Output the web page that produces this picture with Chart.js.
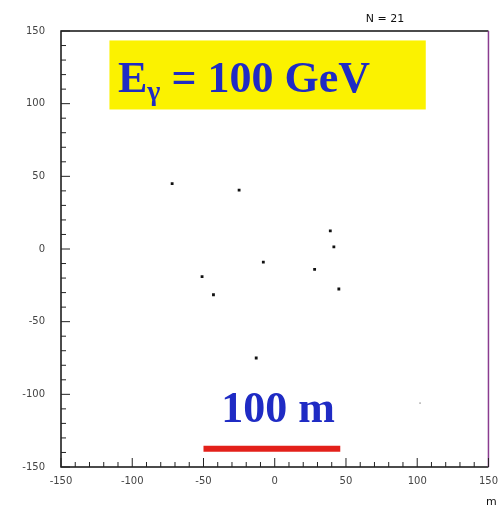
<!DOCTYPE html>
<html>
<head>
<meta charset="utf-8">
<script src="https://cdn.jsdelivr.net/npm/chart.js@4.4.1/dist/chart.umd.min.js"></script>
<style>
  html, body { margin: 0; padding: 0; background: #fff; }
  #wrap { width: 498px; height: 507px; }
</style>
</head>
<body>
<div id="wrap"><canvas id="plot" width="498" height="507"></canvas></div>
<script>
// hit positions (m)
const hitX = [-72, -25, 39, 41.5, -8, 28, -51, -43, 45, -13];
const hitY = [45, 40.5, 12.5, 1.5, -9, -14, -19, -31.5, -27.5, -75];
const faintX = [102];
const faintY = [-106];
// 100 m scale bar
const barX = [-50, 46];
const barY = [-137.5, -137.5];
const axisTicks = [-150, -100, -50, 0, 50, 100, 150];

const pts = (xs, ys) => xs.map((x, i) => ({ x, y: ys[i] }));

// inward ticks + frame + labels, like the old PAW plot
const decor = {
  id: 'decor',
  beforeDatasetsDraw(chart) {
    const { ctx, scales: { x, y } } = chart;
    ctx.save();
    // yellow label box
    const bx1 = x.getPixelForValue(-116), bx2 = x.getPixelForValue(106);
    const by1 = y.getPixelForValue(143.5), by2 = y.getPixelForValue(96);
    ctx.fillStyle = '#fbf200';
    ctx.fillRect(bx1, by1, bx2 - bx1, by2 - by1);
    ctx.restore();
  },
  afterDatasetsDraw(chart) {
    const { ctx, chartArea: a, scales: { x, y } } = chart;
    ctx.save();
    // frame
    ctx.lineWidth = 1.5;
    ctx.strokeStyle = '#111';
    ctx.beginPath();
    ctx.moveTo(a.right, a.top); ctx.lineTo(a.left, a.top); ctx.lineTo(a.left, a.bottom); ctx.lineTo(a.right, a.bottom);
    ctx.stroke();
    ctx.strokeStyle = '#8a3c90';
    ctx.beginPath(); ctx.moveTo(a.right, a.top); ctx.lineTo(a.right, a.bottom); ctx.stroke();

    // ticks
    ctx.strokeStyle = '#222';
    ctx.lineWidth = 1;
    for (let v = -150; v <= 150; v += 10) {
      const len = v % 50 === 0 ? 9 : 5;
      const py = y.getPixelForValue(v);
      ctx.beginPath(); ctx.moveTo(a.left, py); ctx.lineTo(a.left + len, py); ctx.stroke();
      const px = x.getPixelForValue(v);
      ctx.beginPath(); ctx.moveTo(px, a.bottom); ctx.lineTo(px, a.bottom - len); ctx.stroke();
    }

    // title texts
    ctx.fillStyle = '#1f2bc4';
    ctx.textBaseline = 'alphabetic';
    ctx.textAlign = 'left';
    let tx = 118, ty = 92;
    ctx.font = 'bold 44px "Liberation Serif", serif';
    ctx.fillText('E', tx, ty);
    tx += ctx.measureText('E').width;
    ctx.font = 'bold 28px "Liberation Serif", serif';
    ctx.fillText('γ', tx, ty + 8);
    tx += ctx.measureText('γ').width;
    ctx.font = 'bold 44px "Liberation Serif", serif';
    ctx.fillText(' = 100 GeV', tx, ty);

    ctx.textAlign = 'center';
    ctx.fillText('100 m', 278, 422);

    ctx.fillStyle = '#111';
    ctx.font = '11px "DejaVu Sans", sans-serif';
    ctx.fillText('N = 21', 385, 22);
    ctx.textAlign = 'left';
    ctx.fillText('m', 486, 505);
    ctx.restore();
  }
};

new Chart(document.getElementById('plot'), {
  type: 'scatter',
  data: {
    datasets: [
      {
        data: pts(hitX, hitY),
        backgroundColor: '#111', borderColor: '#111',
        pointStyle: 'rect', pointRadius: 2, borderWidth: 0,
      },
      {
        data: pts(faintX, faintY),
        backgroundColor: '#bbb', borderColor: '#bbb',
        pointStyle: 'rect', pointRadius: 1.2, borderWidth: 0,
      },
      {
        type: 'line',
        data: pts(barX, barY),
        borderColor: '#e3201a', borderWidth: 6,
        pointRadius: 0, borderCapStyle: 'butt',
      },
    ]
  },
  options: {
    responsive: false,
    devicePixelRatio: 1,
    animation: false,
    layout: { padding: { top: 31, right: 4, left: 0, bottom: 0 } },
    plugins: { legend: { display: false }, tooltip: { enabled: false } },
    scales: {
      x: {
        type: 'linear', min: -150, max: 150,
        afterBuildTicks: s => { s.ticks = axisTicks.map(v => ({ value: v })); },
        afterFit: s => { s.height = 40; },
        grid: { display: false }, border: { display: false },
        ticks: { color: '#444', font: { size: 10, family: 'DejaVu Sans' }, padding: 0 },
      },
      y: {
        type: 'linear', min: -150, max: 150,
        afterBuildTicks: s => { s.ticks = axisTicks.map(v => ({ value: v })); },
        afterFit: s => { s.width = 61; },
        grid: { display: false }, border: { display: false },
        ticks: { color: '#444', font: { size: 10, family: 'DejaVu Sans' }, padding: 8 },
      },
    }
  },
  plugins: [decor]
});
</script>
</body>
</html>
